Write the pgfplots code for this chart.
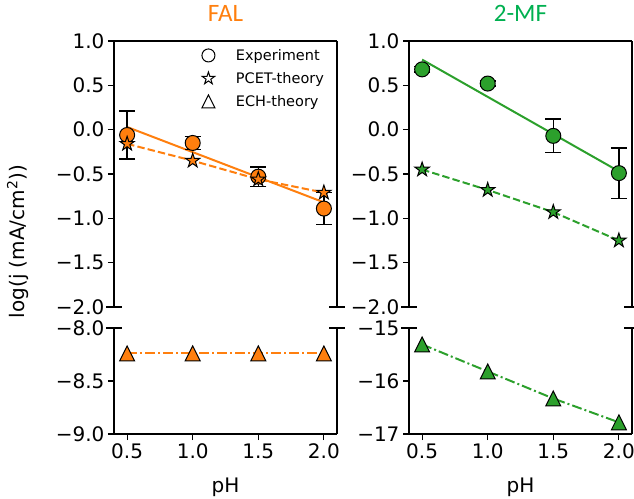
\documentclass[border=0pt]{standalone}
\usepackage{pgfplots}
\pgfplotsset{compat=1.18}
\usepackage{fontspec}
\setmainfont{DejaVu Sans}
\newfontfamily\titlefont{Carlito}

\definecolor{tor}{HTML}{FF7F0E}
\definecolor{tgr}{HTML}{2CA02C}
\definecolor{ttlor}{HTML}{FF7F0E}
\definecolor{ttlgr}{HTML}{00B050}

% filled five-pointed star, like matplotlib's '*'
\pgfdeclareplotmark{fstar}{%
  \pgfpathmoveto{\pgfqpoint{0pt}{\pgfplotmarksize}}%
  \pgfpathlineto{\pgfqpoint{-0.2245\pgfplotmarksize}{0.3090\pgfplotmarksize}}%
  \pgfpathlineto{\pgfqpoint{-0.9511\pgfplotmarksize}{0.3090\pgfplotmarksize}}%
  \pgfpathlineto{\pgfqpoint{-0.3633\pgfplotmarksize}{-0.1180\pgfplotmarksize}}%
  \pgfpathlineto{\pgfqpoint{-0.5878\pgfplotmarksize}{-0.8090\pgfplotmarksize}}%
  \pgfpathlineto{\pgfqpoint{0pt}{-0.382\pgfplotmarksize}}%
  \pgfpathlineto{\pgfqpoint{0.5878\pgfplotmarksize}{-0.8090\pgfplotmarksize}}%
  \pgfpathlineto{\pgfqpoint{0.3633\pgfplotmarksize}{-0.1180\pgfplotmarksize}}%
  \pgfpathlineto{\pgfqpoint{0.9511\pgfplotmarksize}{0.3090\pgfplotmarksize}}%
  \pgfpathlineto{\pgfqpoint{0.2245\pgfplotmarksize}{0.3090\pgfplotmarksize}}%
  \pgfpathclose\pgfusepathqfillstroke}
% matplotlib's '^' triangle (as wide as it is tall)
\pgfdeclareplotmark{tri}{%
  \pgfpathmoveto{\pgfqpoint{0pt}{\pgfplotmarksize}}%
  \pgfpathlineto{\pgfqpoint{-\pgfplotmarksize}{-\pgfplotmarksize}}%
  \pgfpathlineto{\pgfqpoint{\pgfplotmarksize}{-\pgfplotmarksize}}%
  \pgfpathclose\pgfusepathqfillstroke}

\tikzset{brk/.style={black, line width=1.15pt}}

\pgfplotsset{
  panel/.style={
    scale only axis, width=223pt, anchor=south west,
    xmin=0.4, xmax=2.1, clip=false,
    axis line style={black, line width=1.15pt},
    tick style={black, line width=1.15pt},
    major tick length=6pt, tick align=outside,
    ytick pos=left,
    tick label style={font=\fontsize{20}{24}\selectfont},
    /pgf/number format/assume math mode=true,
  },
  toppanel/.style={panel, height=266pt,
    axis x line*=top, axis y line*=box, xtick=\empty,
    ymin=-2, ymax=1, ytick={-2,-1.5,-1,-0.5,0,0.5,1},
    yticklabels={−2.0,−1.5,−1.0,−0.5,0.0,0.5,1.0},
    title style={at={(0.5,1)}, anchor=base, yshift=13pt,
      font=\titlefont\fontsize{25}{30}\selectfont}},
  botpanel/.style={panel, height=106pt,
    axis x line*=bottom, axis y line*=box, xtick pos=bottom,
    xtick={0.5,1,1.5,2}, xticklabels={0.5,1.0,1.5,2.0},
    xlabel=pH,
    xlabel style={at={(0.5,0)}, anchor=base, yshift=-58.5pt,
      font=\fontsize{20}{24}\selectfont}},
  fitline/.style={line width=2pt, forget plot},
  pcetline/.style={line width=2pt, dash pattern=on 7.4pt off 3.2pt, forget plot},
  echline/.style={line width=2pt, dash pattern=on 10pt off 3pt on 2pt off 3pt, forget plot},
  dots/.style={only marks, forget plot, mark size=7.5pt,
    mark options={solid, fill=#1, draw=black, line width=1pt}},
  ebars/.style={draw=none, forget plot,
    error bars/.cd, y dir=both, y explicit,
    error bar style={draw=black, line width=1.5pt, solid},
    error mark options={rotate=90, draw=black, mark size=8pt, line width=1.5pt}},
}

\begin{document}
\begin{tikzpicture}
\path[use as bounding box] (0,0) rectangle (634pt,498pt);

% ---------- FAL, upper part ----------
\begin{axis}[toppanel, at={(114pt,191pt)}, title=FAL, title style={text=ttlor},
  legend style={draw=none, fill=none, at={(0.38,0.985)}, anchor=north west,
    font=\fontsize{14.5}{17}\selectfont, row sep=6.5pt, column sep=19pt},
  legend cell align=left]
\addplot[tor, fitline] coordinates {(0.5,0.03) (2.0,-0.82)};
\addplot[tor, pcetline] coordinates {(0.5,-0.16) (1.0,-0.35) (1.5,-0.56) (2.0,-0.71)};
\addplot[dots=tor, mark=*] coordinates {(0.5,-0.06) (1.0,-0.15) (1.5,-0.53) (2.0,-0.89)};
\addplot[ebars] coordinates {(0.5,-0.06) +- (0,0.27) (1.0,-0.15) +- (0,0.075)
  (1.5,-0.53) +- (0,0.11) (2.0,-0.89) +- (0,0.18)};
\addplot[dots=tor, mark=fstar] coordinates {(0.5,-0.16) (1.0,-0.35) (1.5,-0.56) (2.0,-0.71)};
\addlegendimage{only marks, mark=*, mark size=6.5pt, mark options={fill=white, draw=black, line width=1pt}}
\addlegendentry{Experiment}
\addlegendimage{only marks, mark=fstar, mark size=6.5pt, mark options={fill=white, draw=black, line width=1pt}}
\addlegendentry{PCET-theory}
\addlegendimage{only marks, mark=tri, mark size=6.5pt, mark options={fill=white, draw=black, line width=1pt}}
\addlegendentry{ECH-theory}
\draw[brk] ([xshift=-8pt]rel axis cs:0,0) -- ([xshift=8pt]rel axis cs:0,0);
\draw[brk] ([xshift=-8pt]rel axis cs:1,0) -- ([xshift=8pt]rel axis cs:1,0);
\end{axis}

% ---------- FAL, lower part ----------
\begin{axis}[botpanel, at={(114pt,64pt)},
  ymin=-9, ymax=-8, ytick={-9,-8.5,-8}, yticklabels={−9.0,−8.5,−8.0}]
\addplot[tor, echline] coordinates {(0.5,-8.24) (1.0,-8.24) (1.5,-8.24) (2.0,-8.24)};
\addplot[dots=tor, mark=tri] coordinates {(0.5,-8.24) (1.0,-8.24) (1.5,-8.24) (2.0,-8.24)};
\draw[brk] ([xshift=-8pt]rel axis cs:0,1) -- ([xshift=8pt]rel axis cs:0,1);
\draw[brk] ([xshift=-8pt]rel axis cs:1,1) -- ([xshift=8pt]rel axis cs:1,1);
\end{axis}

% ---------- 2-MF, upper part ----------
\begin{axis}[toppanel, at={(409pt,191pt)}, title=2-MF, title style={text=ttlgr}]
\addplot[tgr, fitline] coordinates {(0.5,0.79) (2.0,-0.47)};
\addplot[tgr, pcetline] coordinates {(0.5,-0.45) (1.0,-0.68) (1.5,-0.93) (2.0,-1.25)};
\addplot[dots=tgr, mark=*] coordinates {(0.5,0.68) (1.0,0.52) (1.5,-0.07) (2.0,-0.49)};
\addplot[ebars] coordinates {(0.5,0.68) +- (0,0.03) (1.0,0.52) +- (0,0.03)
  (1.5,-0.07) +- (0,0.19) (2.0,-0.49) +- (0,0.285)};
\addplot[dots=tgr, mark=fstar] coordinates {(0.5,-0.45) (1.0,-0.68) (1.5,-0.93) (2.0,-1.25)};
\draw[brk] ([xshift=-8pt]rel axis cs:0,0) -- ([xshift=8pt]rel axis cs:0,0);
\draw[brk] ([xshift=-8pt]rel axis cs:1,0) -- ([xshift=8pt]rel axis cs:1,0);
\end{axis}

% ---------- 2-MF, lower part ----------
\begin{axis}[botpanel, at={(409pt,64pt)},
  ymin=-17, ymax=-15, ytick={-17,-16,-15}, yticklabels={−17,−16,−15}]
\addplot[tgr, echline] coordinates {(0.5,-15.31) (1.0,-15.82) (1.5,-16.33) (2.0,-16.78)};
\addplot[dots=tgr, mark=tri] coordinates {(0.5,-15.31) (1.0,-15.82) (1.5,-16.33) (2.0,-16.78)};
\draw[brk] ([xshift=-8pt]rel axis cs:0,1) -- ([xshift=8pt]rel axis cs:0,1);
\draw[brk] ([xshift=-8pt]rel axis cs:1,1) -- ([xshift=8pt]rel axis cs:1,1);
\end{axis}

\node[rotate=90, anchor=base, font=\fontsize{20}{24}\selectfont] at (25pt,256.5pt)
  {log(j (mA/cm\textsuperscript{2}))};
\end{tikzpicture}
\end{document}
